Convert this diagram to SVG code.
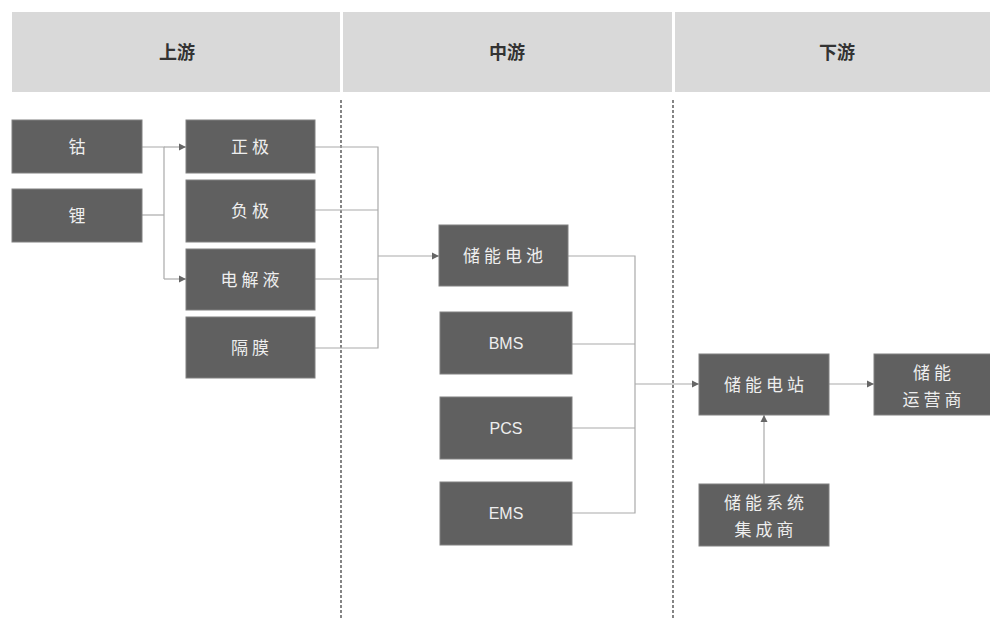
<svg xmlns="http://www.w3.org/2000/svg" width="990" height="619" viewBox="0 0 990 619">
<defs>
<marker id="arr" markerWidth="8" markerHeight="8" refX="7" refY="4" orient="auto" markerUnits="userSpaceOnUse">
<path d="M0,0.5 L7,4 L0,7.5 Z" fill="#666"/>
</marker>
<style>
.hdr{fill:#d9d9d9}
.hdt{font-family:"Noto Sans CJK SC","Noto Sans",sans-serif;font-size:18px;font-weight:bold;fill:#333;text-anchor:middle}
.nd rect{fill:#606060;stroke:#808080;stroke-width:1}
.nd text{font-family:"Noto Sans CJK SC","Noto Sans",sans-serif;font-size:17px;fill:#eeeeee;text-anchor:middle;letter-spacing:4px}
.nd text.en{font-family:"Liberation Sans",Arial,sans-serif;font-size:16px;letter-spacing:0}
.cn{fill:none;stroke:#aaaaaa;stroke-width:1.2}
.dash{stroke:#444;stroke-width:1.3;stroke-dasharray:3 2}
</style>
</defs>
<rect width="990" height="619" fill="#ffffff"/>
<g id="header">
<rect class="hdr" x="12" y="12" width="328" height="80"/>
<rect class="hdr" x="343" y="12" width="329" height="80"/>
<rect class="hdr" x="675" y="12" width="315" height="80"/>
<text class="hdt" x="177" y="59">上游</text>
<text class="hdt" x="507" y="59">中游</text>
<text class="hdt" x="837" y="59">下游</text>
</g>
<g id="dividers">
<line class="dash" x1="341" y1="100" x2="341" y2="619"/>
<line class="dash" x1="673" y1="100" x2="673" y2="619"/>
</g>
<g id="connectors">
<path class="cn" d="M142,147 H164 V279"/>
<path class="cn" d="M142,215 H164"/>
<path class="cn" d="M164,147 H186" marker-end="url(#arr)"/>
<path class="cn" d="M164,279 H186" marker-end="url(#arr)"/>
<path class="cn" d="M315,147 H378 V348 H315"/>
<path class="cn" d="M315,210 H378"/>
<path class="cn" d="M315,279 H378"/>
<path class="cn" d="M378,256 H439" marker-end="url(#arr)"/>
<path class="cn" d="M568,256 H635 V513 H572"/>
<path class="cn" d="M572,344 H635"/>
<path class="cn" d="M572,428 H635"/>
<path class="cn" d="M635,384 H699" marker-end="url(#arr)"/>
<path class="cn" d="M829,384 H874" marker-end="url(#arr)"/>
<path class="cn" d="M764,484 V415" marker-end="url(#arr)"/>
</g>
<g id="n_cobalt" class="nd"><rect x="12" y="120" width="130" height="53"/><text x="79" y="153">钴</text></g>
<g id="n_lithium" class="nd"><rect x="12" y="189" width="130" height="53"/><text x="79" y="222">锂</text></g>
<g id="n_cathode" class="nd"><rect x="186" y="120" width="129" height="53"/><text x="252" y="153">正极</text></g>
<g id="n_anode" class="nd"><rect x="186" y="180" width="129" height="62"/><text x="252" y="217">负极</text></g>
<g id="n_electrolyte" class="nd"><rect x="186" y="249" width="129" height="61"/><text x="252" y="286">电解液</text></g>
<g id="n_separator" class="nd"><rect x="186" y="317" width="129" height="61"/><text x="252" y="354">隔膜</text></g>
<g id="n_battery" class="nd"><rect x="439" y="225" width="129" height="61"/><text x="505" y="262">储能电池</text></g>
<g id="n_bms" class="nd"><rect x="440" y="312" width="132" height="62"/><text class="en" x="506" y="349">BMS</text></g>
<g id="n_pcs" class="nd"><rect x="440" y="397" width="132" height="62"/><text class="en" x="506" y="434">PCS</text></g>
<g id="n_ems" class="nd"><rect x="440" y="482" width="132" height="63"/><text class="en" x="506" y="519">EMS</text></g>
<g id="n_station" class="nd"><rect x="699" y="354" width="130" height="61"/><text x="766" y="391">储能电站</text></g>
<g id="n_operator" class="nd"><rect x="874" y="354" width="120" height="61"/><text x="934" y="379">储能</text><text x="934" y="406">运营商</text></g>
<g id="n_integrator" class="nd"><rect x="699" y="484" width="130" height="62"/><text x="766" y="509">储能系统</text><text x="766" y="536">集成商</text></g>
</svg>
